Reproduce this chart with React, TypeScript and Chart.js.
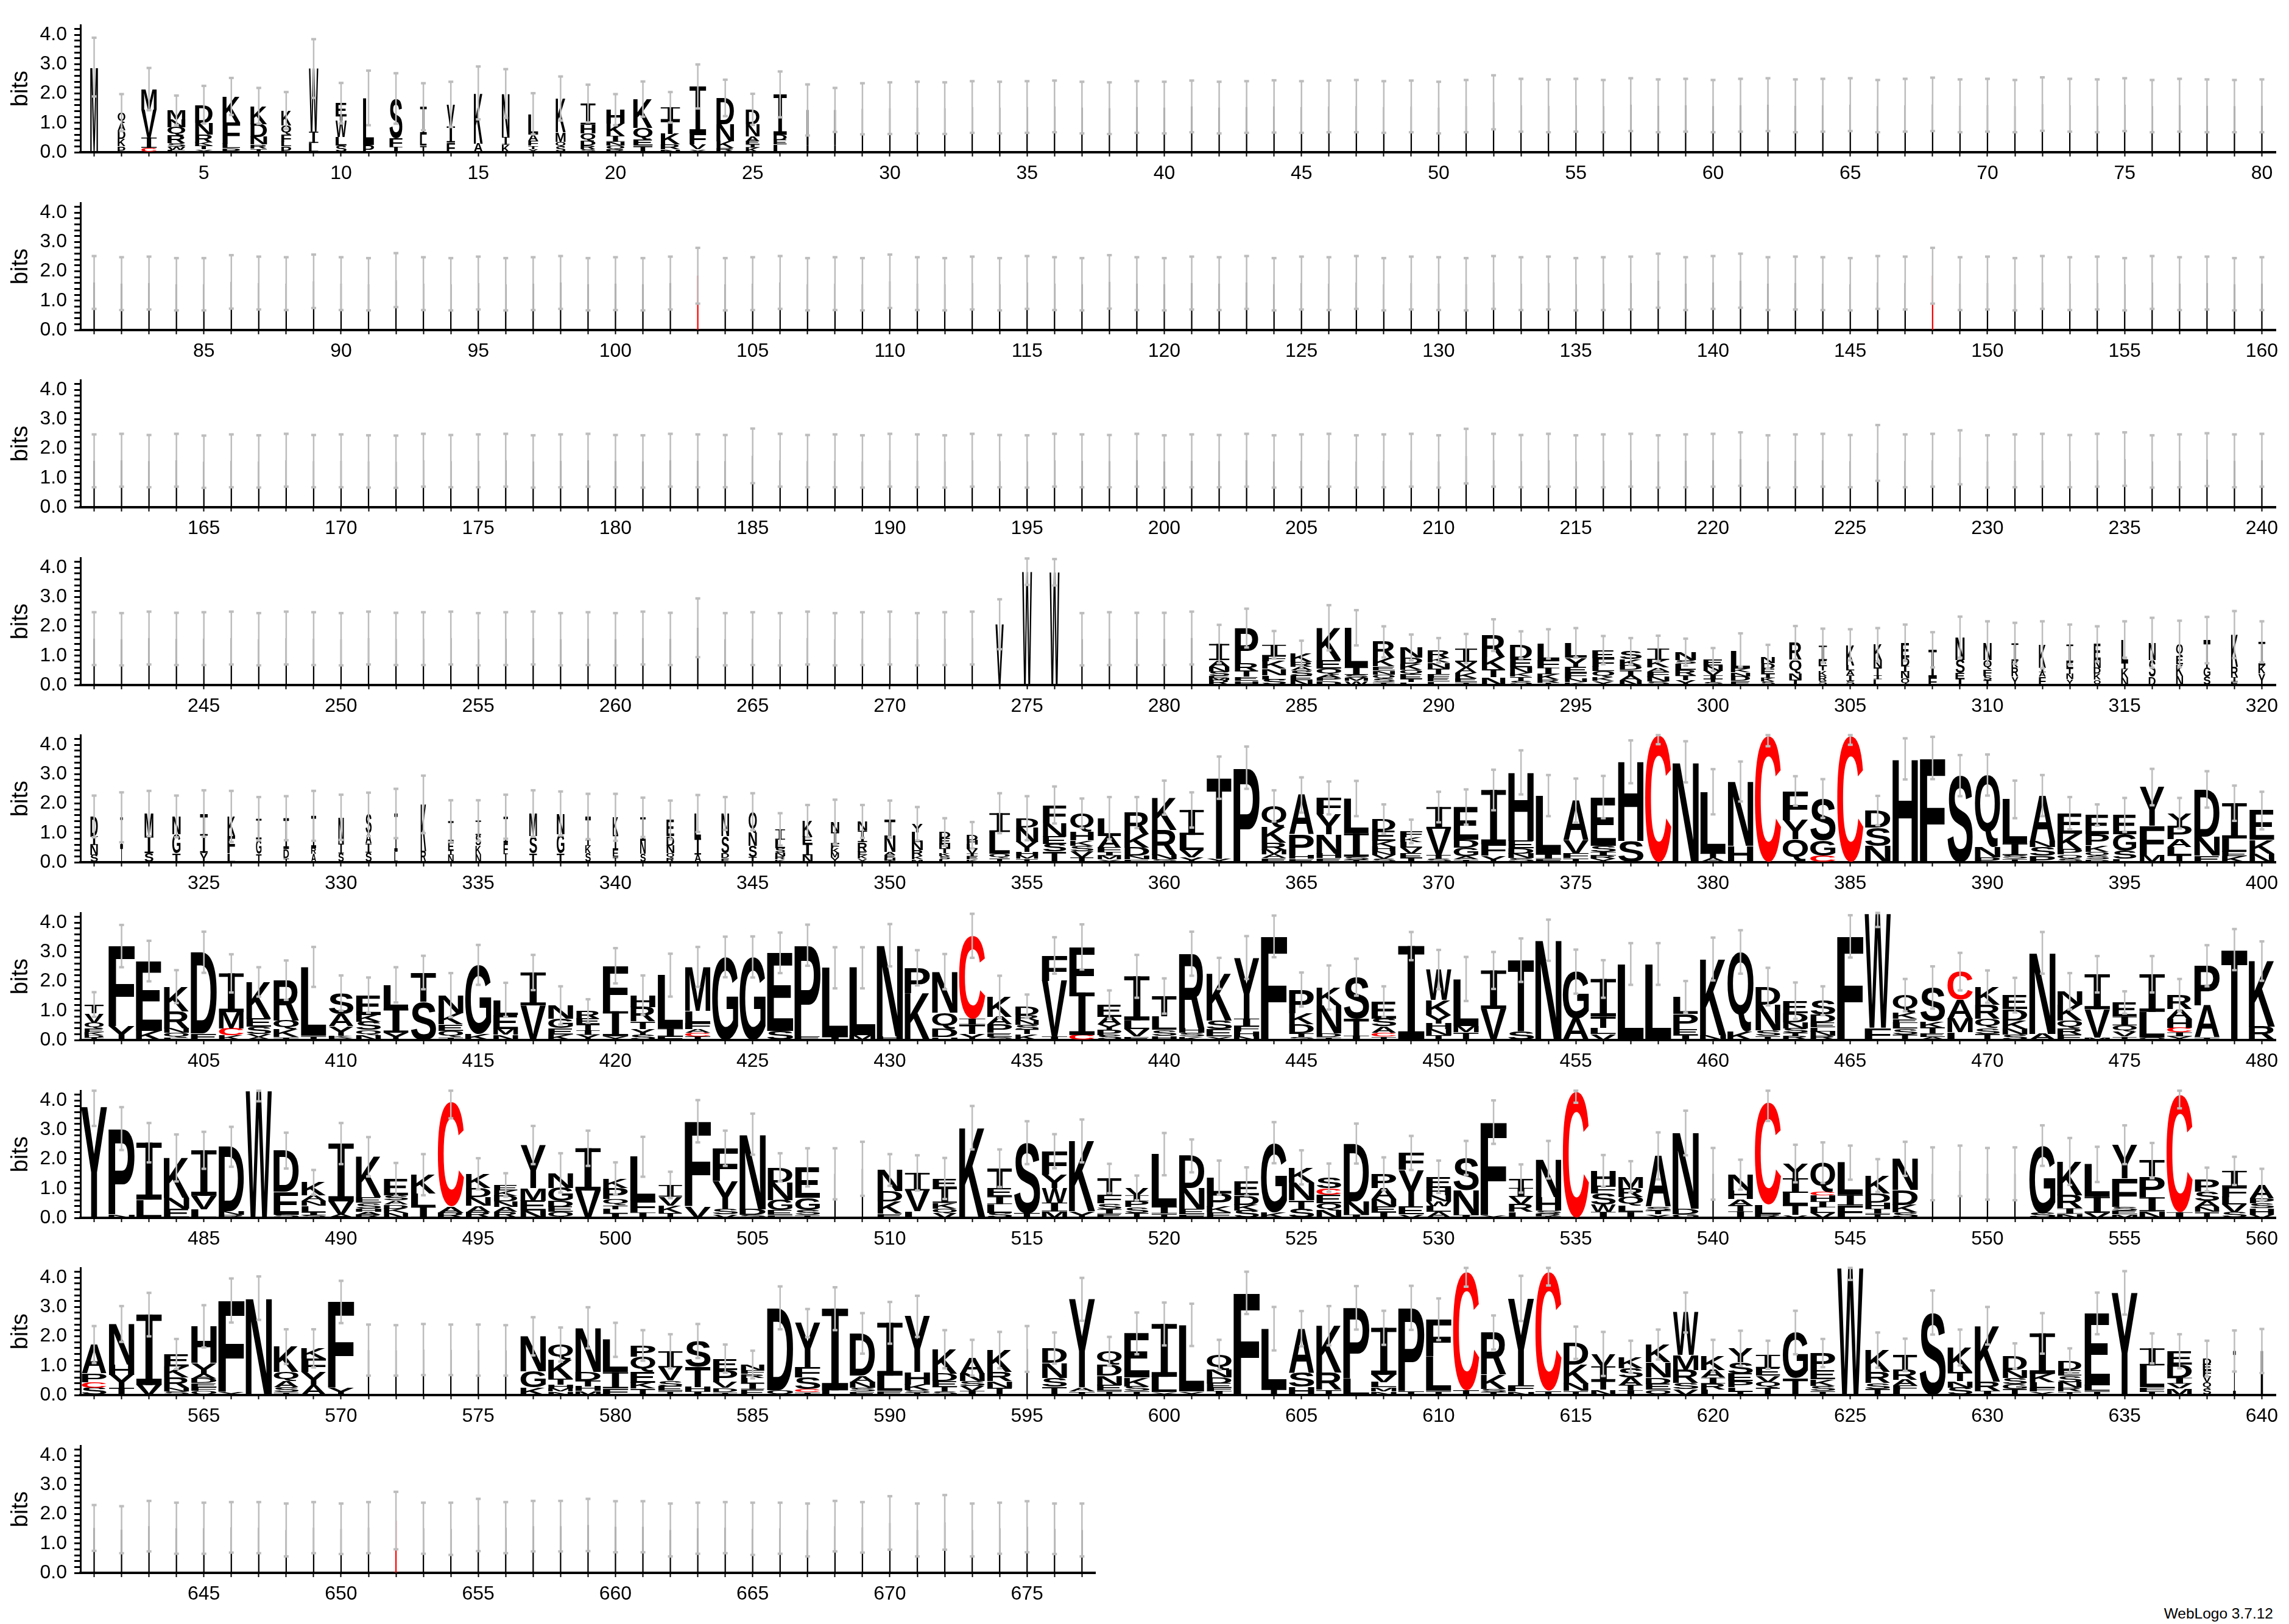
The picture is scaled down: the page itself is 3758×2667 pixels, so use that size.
import React, { useEffect, useRef } from 'react';
import { Chart, registerables } from 'chart.js';

Chart.register(...registerables);

const FONT = "'Liberation Sans', Arial, Helvetica, sans-serif";
const LETTER_FONT = "bold 200px 'Liberation Sans', Arial, sans-serif";

// Each entry: "stackWidthFraction|errorHalfWidth|letters (top -> bottom, height in bits)"
const row1Stacks = [
  ".28|1.0|M2.9", ".28|.63|Q.35A.25D.3K.25P.2", ".56|.72|M.7V.95I.35C.15", ".65|.5|M.32N.26Q.29R.26S.12W.1E.08", ".64|.64|D.62N.4R.26K.12T.12Y.1", ".64|.63|K.88F.72L.15P.15", ".6|.61|K.62D.44N.26R.14T.12", ".36|.63|K.5Q.32F.25L.15P.2", ".34|1.0|W2.15I.38L.32", ".4|.69|E.45T.15W.55L.3S.22",
  ".4|.93|L1.6P.25", ".47|.86|S1.35F.3I.18", ".24|.8|I.95L.38T.22", ".3|.77|V.75I.55F.33", ".32|.9|K1.72A.3", ".28|.83|N1.48I.26K.26", ".36|.7|L.7A.22F.17T.11Y.11", ".36|.75|K1.15M.32Q.17S.19", ".54|.64|I.72H.3Q.27D.15R.12S.1", ".66|.53|H.47K.42I.2N.14Q.12R.1",
  ".7|.6|K.98Q.4E.21T.22", ".7|.52|I.44T.47K.36R.16N.1", ".6|.75|I1.6F.38V.16Y.1", ".64|.62|D.9N.58K.23R.14", ".5|.53|D.5N.42A.16E.12I.1K.16", ".48|.78|I1.38D.17E.16L.26", ".07|.87|I1.2R.24", ".06|.75|I.9M.3S.24", ".05|.87|L1.48", ".05|.88|I1.5",
  ".05|.88|S1.52", ".05|.88|L1.5", ".05|.88|K1.54", ".05|.88|I1.52", ".05|.88|L1.54", ".05|.88|N1.56", ".05|.88|L1.52", ".05|.88|I1.5", ".05|.88|S1.54", ".05|.88|L1.52",
  ".05|.88|K1.56", ".05|.88|E1.52", ".05|.88|L1.54", ".05|.89|I1.56", ".05|.88|L1.54", ".05|.88|N1.56", ".05|.89|L1.57", ".05|.88|S1.54", ".05|.88|I1.56", ".05|.88|L1.52",
  ".05|.89|K1.57", ".05|.92|L1.7", ".05|.9|I1.6", ".05|.9|L1.58", ".05|.9|E1.6", ".05|.89|L1.57", ".05|.9|S1.62", ".05|.9|L1.58", ".05|.9|I1.6", ".05|.89|K1.57",
  ".05|.9|L1.6", ".05|.9|N1.62", ".05|.9|L1.58", ".05|.9|I1.6", ".05|.9|L1.62", ".05|.89|S1.57", ".05|.9|L1.6", ".05|.91|E1.63", ".05|.9|L1.58", ".05|.9|I1.6",
  ".05|.89|L1.57", ".05|.91|K1.64", ".05|.9|L1.6", ".05|.9|N1.58", ".05|.9|L1.62", ".05|.89|I1.57", ".05|.9|L1.6", ".05|.9|S1.58", ".05|.89|L1.57", ".05|.9|I1.58",
];

const row2Stacks = [
  ".05|.9|L1.62", ".05|.9|I1.58", ".05|.9|L1.6", ".05|.89|S1.56", ".05|.89|L1.56", ".05|.91|K1.64", ".05|.9|L1.6", ".05|.9|I1.58", ".05|.91|L1.66", ".05|.9|N1.58",
  ".05|.89|L1.56", ".05|.92|E1.7", ".05|.9|L1.58", ".05|.89|I1.56", ".05|.9|L1.6", ".05|.89|S1.56", ".05|.9|L1.58", ".05|.9|K1.62", ".05|.89|L1.56", ".05|.9|I1.58",
  ".05|.89|L1.56", ".05|.9|N1.6", ".05|.95|C1.85", ".05|.89|L1.56", ".05|.9|I1.58", ".05|.9|L1.62", ".05|.89|S1.56", ".05|.9|L1.58", ".05|.89|K1.56", ".05|.91|L1.66",
  ".05|.9|I1.58", ".05|.89|L1.56", ".05|.9|E1.6", ".05|.89|L1.56", ".05|.9|I1.62", ".05|.9|L1.58", ".05|.89|S1.56", ".05|.91|L1.64", ".05|.9|K1.58", ".05|.89|L1.56",
  ".05|.9|I1.6", ".05|.9|L1.58", ".05|.9|N1.62", ".05|.89|L1.56", ".05|.9|I1.6", ".05|.9|L1.58", ".05|.9|S1.62", ".05|.89|L1.56", ".05|.9|E1.6", ".05|.9|L1.58",
  ".05|.89|I1.56", ".05|.9|L1.62", ".05|.9|K1.58", ".05|.9|L1.6", ".05|.89|I1.56", ".05|.9|L1.58", ".05|.9|S1.6", ".05|.92|L1.68", ".05|.9|I1.58", ".05|.9|L1.62",
  ".05|.92|N1.68", ".05|.9|L1.58", ".05|.9|I1.6", ".05|.9|L1.58", ".05|.89|K1.56", ".05|.9|L1.62", ".05|.9|I1.6", ".05|.95|C1.85", ".05|.9|L1.58", ".05|.9|S1.6",
  ".05|.89|L1.56", ".05|.9|I1.62", ".05|.9|L1.58", ".05|.9|E1.6", ".05|.89|L1.56", ".05|.9|I1.62", ".05|.9|L1.58", ".05|.9|K1.6", ".05|.89|L1.56", ".05|.9|I1.58",
];

const row3Stacks = [
  ".05|.9|L1.58", ".05|.9|I1.6", ".05|.89|L1.57", ".05|.9|S1.6", ".05|.89|L1.55", ".05|.9|K1.58", ".05|.89|L1.56", ".05|.9|I1.6", ".05|.89|L1.57", ".05|.9|N1.58",
  ".05|.89|L1.56", ".05|.89|I1.55", ".05|.9|L1.6", ".05|.89|E1.57", ".05|.9|L1.58", ".05|.9|I1.6", ".05|.89|L1.56", ".05|.9|S1.58", ".05|.9|L1.6", ".05|.89|K1.57",
  ".05|.89|L1.56", ".05|.9|I1.6", ".05|.9|L1.58", ".05|.89|N1.57", ".05|.93|L1.75", ".05|.9|I1.6", ".05|.89|L1.57", ".05|.9|S1.58", ".05|.89|L1.56", ".05|.9|I1.6",
  ".05|.9|L1.58", ".05|.89|K1.56", ".05|.9|L1.6", ".05|.89|E1.57", ".05|.89|L1.56", ".05|.9|I1.6", ".05|.9|L1.58", ".05|.89|S1.57", ".05|.9|L1.6", ".05|.89|I1.56",
  ".05|.9|L1.58", ".05|.89|N1.57", ".05|.9|L1.6", ".05|.89|I1.56", ".05|.9|L1.58", ".05|.9|K1.6", ".05|.89|L1.56", ".05|.9|I1.58", ".05|.9|L1.6", ".05|.89|S1.56",
  ".05|.93|L1.74", ".05|.9|I1.6", ".05|.89|L1.57", ".05|.9|E1.6", ".05|.89|L1.56", ".05|.9|I1.58", ".05|.9|L1.6", ".05|.89|K1.56", ".05|.9|L1.58", ".05|.9|I1.6",
  ".05|.91|L1.64", ".05|.89|N1.56", ".05|.9|L1.58", ".05|.9|I1.6", ".05|.89|L1.57", ".05|.95|S1.85", ".05|.9|L1.58", ".05|.9|I1.6", ".05|.92|L1.7", ".05|.89|K1.56",
  ".05|.9|L1.58", ".05|.9|I1.6", ".05|.89|L1.57", ".05|.9|E1.6", ".05|.91|L1.64", ".05|.89|I1.56", ".05|.9|L1.58", ".05|.9|S1.62", ".05|.9|L1.58", ".05|.9|I1.6",
];

const row4Stacks = [
  ".05|.9|L1.58", ".05|.89|I1.56", ".05|.9|L1.6", ".05|.89|S1.57", ".05|.9|L1.58", ".05|.9|K1.6", ".05|.89|L1.56", ".05|.9|I1.6", ".05|.9|L1.58", ".05|.89|N1.56",
  ".05|.9|L1.6", ".05|.89|I1.57", ".05|.9|L1.58", ".05|.9|E1.6", ".05|.89|L1.56", ".05|.9|I1.58", ".05|.9|L1.6", ".05|.89|S1.56", ".05|.9|L1.58", ".05|.89|K1.56",
  ".05|.9|L1.6", ".05|.89|I1.57", ".05|1.0|L1.95", ".05|.89|N1.56", ".05|.9|L1.58", ".05|.89|I1.56", ".05|.9|L1.6", ".05|.89|S1.56", ".05|.9|L1.58", ".05|.9|K1.6",
  ".05|.89|L1.56", ".05|.9|I1.58", ".05|.9|L1.6", ".3|.85|V2.07", ".36|.45|W3.86", ".36|.45|W3.84", ".05|.89|L1.56", ".05|.9|I1.58", ".05|.89|L1.57", ".05|.89|S1.57",
  ".05|.9|L1.6", ".74|.65|I.55A.22N.17S.15E.08M.07R.16", ".85|.66|P1.2R.26T.2E.14H.14", ".87|.47|I.38F.18K.26N.22L.14S.19", ".8|.43|K.29R.16A.14S.18E.15N.16", ".9|.77|K1.1E.3Q.2A.1P.1D.15", ".85|.6|L1.35I.25S.1M.1W.15", ".8|.53|R.55K.28E.14N.14Q.14S.12T.1", ".8|.44|N.35D.2K.22Q.16E.15T.1L.1", ".8|.42|R.26K.16N.19T.19F.13E.13L.12",
  ".8|.5|I.45V.19A.19K.19E.12T.1", ".85|.54|R.75K.42T.27N.26", ".8|.46|D.48E.29N.18K.14T.14S.14", ".8|.5|L.55F.26I.22K.19R.1T.08", ".8|.5|L.51Y.32E.2F.19N.12K.1", ".8|.48|E.27F.29L.16Q.19K.13Y.15", ".8|.45|S.26K.22D.16T.19A.16N.16", ".8|.44|I.38K.26A.14F.19N.15S.12", ".75|.46|N.26S.13L.22R.18T.17Y.16", ".7|.39|E.2N.19V.15I.12T.11S.1",
  ".7|.57|L.62K.14N.14D.15E.14", ".5|.41|N.22D.18E.18I.14K.12S.12", ".45|.57|R.58Q.45N.22T.19", ".3|.58|I.5E.2T.15K.17R.17S.15", ".3|.53|K.7L.17A.17I.18S.15", ".3|.57|K.52N.26T.26I.13L.2", ".3|.62|E.5D.29I.2N.23Q.22", ".3|.6|I.95F.25", ".33|.7|N.77S.45E.2I.21", ".3|.73|N.58Q.32F.22S.16T.16",
  ".25|.7|I.6K.22R.32Y.28", ".25|.8|K.77I.16A.16F.28", ".25|.68|I.6E.2T.2N.18Y.2", ".25|.6|E.55N.26D.2K.2Q.19", ".25|.62|L.8I.2K.3N.25", ".25|.85|N.58S.58D.28", ".25|.79|Q.4E.3K.38N.32", ".25|.79|T.93G.32S.28", ".25|.8|K1.1R.35I.15E.12", ".25|.7|I.8K.28Y.39",
];

const row5Stacks = [
  ".27|.71|D.67I.3N.35S.24", ".1|.85|I1.0T.53", ".32|.77|M.77I.58S.31", ".3|.71|N.6G.65T.31", ".28|.79|T.7I.64Y.32", ".28|.87|K.67F.58L.31", ".2|.74|I.7G.5T.28", ".2|.75|I1.05D.3T.15", ".18|.85|I1.1R.2A.28", ".2|.77|N.9I.33S.3",
  ".22|.74|S.65A.35I.3S.33", ".12|.84|I1.3L.36", ".2|.98|K1.6R.37", ".2|.71|I.7E.3I.15N.25", ".2|.69|I.5S.35K.3N.27", ".16|.75|I.9F.35I.3", ".28|.79|M.77S.58T.31", ".28|.75|N.7G.65T.31", ".2|.77|T.8I.2K.25S.31", ".2|.8|K.6I.5E.25T.18",
  ".2|.67|I.8N.45S.28", ".28|.66|E.55D.32N.26Q.16R.15", ".24|.63|L.85I.55A.26", ".28|.56|N.77S.58D.16E.15", ".3|.63|Q.7N.45S.38T.19", ".36|.55|I.35L.29S.15N.12R.11K.1", ".36|.55|K.52E.26I.38N.24", ".3|.76|N.35I.4F.15K.15M.16Y.16", ".34|.56|N.32I.38R.33E.12K.12Y.12", ".4|.63|T.57N.55A.1E.1H.08I.07",
  ".4|.57|Y.3L.33N.26R.22K.1M.1", ".4|.47|D.2E.2N.16T.16K.1S.1L.11", ".4|.45|D.17H.15L.15V.15I.1E.1K.1", ".75|.68|I.64L.74Q.14T.15", ".8|.75|D.32N.5Y.33H.13M.1T.12", ".85|.63|F.62N.45E.26S.26T.36", ".85|.5|Q.63H.3K.17S.2V.2T.17", ".85|.72|L.6A.4F.15I.12M.13Y.1", ".9|.53|R.74K.45D.28N.12E.1", ".9|.58|K1.1R.85N.15S.1",
  ".88|.6|I.85L.52V.25Y.16", ".9|.72|T2.75Y.13", ".95|.72|P3.22", ".9|.53|Q.74K.52R.24M.16A.12E.14", ".9|.6|A1.35P.7H.12E.12", ".9|.56|F.56Y.68N.65H.15E.15", ".9|.6|L1.18I.8S.1T.09", ".85|.5|D.4E.35K.2H.15N.12V.13S.12", ".8|.4|F.2K.16L.2V.2E.15I.14", ".9|.52|I.74V.9T.12S.12",
  ".9|.6|E1.12D.26G.3A.1T.1", ".9|.69|I1.85F.39Y.22", ".92|.75|H2.33E.26D.17N.15S.15", ".92|.7|L2.0I.15F.12", ".92|.75|A1.36V.45F.15T.14", ".92|.72|E1.65S.22I.12R.1Y.13", ".92|.73|H2.7S.72", ".95|.3|C4.32", ".95|.7|N3.42", ".92|.77|L2.1T.15A.15",
  ".92|.68|N2.2H.55", ".95|.35|C4.3", ".92|.5|F1.0Y.65Q.78", ".92|.66|S1.42G.52C.23", ".95|.3|C4.3", ".92|.5|D.58S.62N.56", ".92|.7|H3.52", ".92|.72|F3.55", ".92|.7|S2.95", ".92|.7|Q2.45N.35P.17",
  ".9|.64|L1.5I.4S.12T.12", ".92|.7|A1.55N.2S.3P.22", ".9|.55|E.69K.54P.18Q.14S.12", ".85|.36|E.65P.38K.22Q.14S.12D.1", ".85|.58|E.65G.58S.26L.12", ".9|.62|Y1.32F1.0M.24", ".88|.52|Y.43P.46A.27L.27T.24", ".92|.62|D1.6N.65E.23", ".9|.6|I1.2L.45E.15K.21", ".9|.64|E1.0K.46N.3",
];

const row6Stacks = [
  ".7|.42|T.3V.32Q.2E.12K.1D.08I.09", ".95|.72|F2.72Y.48", ".95|.69|E2.37K.32", ".9|.56|K.84R.58N.16Q.16E.08", ".95|.7|D2.77E.22", ".9|.65|I1.32M.56C.23K.16", ".9|.5|K1.25E.28S.25V.1A.1", ".92|.67|R1.38Q.29K.27T.1", ".92|.68|L2.34T.15", ".9|.6|S.71A.42Y.32K.08D.07",
  ".9|.6|E.67K.23S.29Q.18N.16", ".9|.6|L.8I.83Y.25", ".92|.57|T1.0S1.3", ".9|.75|N.61K.38E.22Q.22T.1", ".95|.68|G2.34K.22", ".9|.58|L.51E.48M.2N.18", ".92|.6|I1.12V1.18", ".9|.65|N.45G.32E.22K.19", ".85|.4|R.26E.2T.2I.15Y.18", ".92|.6|F1.55I.85Y.13",
  ".9|.67|H.4R.5T.25Y.22S.16", ".92|.73|L1.82I.26F.13", ".92|.68|M1.5L.4F.22A.12C.12T.13", ".95|.69|G2.83", ".95|.7|G2.83", ".95|.69|E2.65S.32", ".95|.7|P3.1E.13", ".95|.7|L2.35I.11", ".95|.7|L2.3M.16", ".95|.72|N3.1H.13",
  ".92|.6|P.86K1.6", ".92|.6|N1.4Q.55D.28H.1", ".95|.75|C2.82I.2T.32Y.21", ".9|.72|K.68A.26P.29E.14S.1", ".85|.4|D.29R.19N.16S.16T.15K.2", ".92|.62|F.86V1.9I.12", ".92|.77|F1.55I1.45C.17", ".88|.48|E.42A.26Y.18P.18S.17", ".92|.73|I1.5L.3V.25E.12", ".9|.6|T.7L.45S.2H.15",
  ".92|.75|R2.55H.15S.12K.12", ".92|.53|K1.6S.3E.25Y.12", ".92|.73|Y2.08I.26F.18H.16N.13", ".95|.71|F3.53", ".9|.58|P.8K.38D.32T.12S.1", ".9|.75|K.61N.96D.12T.1", ".92|.63|S1.41T.58I.15", ".9|.52|E.58S.26A.22C.13T.12", ".95|.48|I3.2", ".92|.67|W1.03K.51Y.29H.2N.2T.17",
  ".92|.75|L1.6M.22T.26", ".92|.63|I1.31V1.06", ".95|.74|T2.43S.29", ".95|.7|N3.4", ".95|.75|G1.6A.73", ".92|.64|I1.28T.38L.22V.2", ".95|.71|L2.59", ".95|.71|L2.59", ".9|.54|L.58P.51E.22I.16", ".95|.73|K2.6N.16",
  ".95|.74|Q2.7K.3", ".9|.64|D.61N.87S.2T.14", ".9|.62|E.42D.32N.2S.15T.12R.13", ".9|.49|S.48D.26E.16L.14N.15R.15", ".95|.72|F3.53", ".95|.45|W3.88F.42", ".9|.55|Q.58K.22E.14L.2S.2T.19", ".9|.72|S1.15K.22T.2E.12A.1", ".92|.64|C.96A.64M.47L.26", ".9|.55|K.61R.48Q.32S.2T.21",
  ".9|.59|E.48D.38K.29N.2S.18", ".95|.71|N2.76A.21", ".9|.62|N.45K.54Q.26R.22E.19", ".92|.62|I1.19V.96M.09", ".88|.38|E.48I.3Q.22V.16T.12", ".92|.62|I1.28L.87Q.09", ".9|.55|R.48A.32H.32C.15I.13Y.13", ".92|.7|P1.35A1.09T.09", ".95|.7|T3.08", ".95|.67|K2.24R.45",
];

const row7Stacks = [
  ".95|.65|Y3.78", ".95|.73|P2.92N.12", ".92|.67|I1.94L.62", ".92|.8|K1.36N.36E.32", ".92|.63|I1.55V.45L.3", ".92|.68|D2.2N.12R.1", ".95|.35|W4.32", ".92|.61|D1.4E.78S.11", ".88|.42|K.45A.19N.16L.22I.1S.09", ".92|.7|I1.97V.45A.11",
  ".92|.67|K1.38E.19S.2H.1A.1R.11", ".88|.56|E.55S.16A.14D.14K.16N.16", ".9|.7|K.64L.45I.38", ".95|.55|C3.56A.22R.16", ".9|.53|K.48D.32N.29A.22R.19", ".85|.4|E.19K.18D.2N.18A.17R.2", ".92|.65|Y1.47M.42E.35N.24", ".9|.67|N.51G.45D.2E.17Q.2", ".92|.6|I1.44V.93", ".9|.55|K.32P.38Q.2T.14L.15I.15",
  ".92|.68|L1.5F.4I.18", ".85|.45|I.4V.3K.25T.17", ".95|.72|F2.9V.39", ".92|.6|F1.12Y.93S.2V.12", ".95|.7|N2.55D.2S.1", ".9|.48|D.51N.6G.35E.16F.1", ".9|.65|E1.03G.42S.17T.1", ".05|.87|L1.5", ".05|.92|I1.67", ".9|.54|N.71D.35K.42E.15",
  ".9|.6|I.6V.71L.22", ".88|.7|E.32I.51K.19Q.16V.16", ".95|.74|K3.07", ".9|.64|T.67E.3I.25L.3S.17", ".95|.73|S2.4T.16", ".92|.58|F.8Y.45W.5I.3M.22", ".95|.73|K2.4Y.22", ".88|.5|T.55F.3S.2I.15E.14", ".85|.42|V.25I.2P.2S.2T.17", ".92|.72|L1.8I.22T.15",
  ".92|.56|D1.1N.71E.18F.12", ".9|.58|L.54P.45K.2E.18", ".9|.48|E.48D.32K.2S.24", ".95|.7|G2.36K.2", ".92|.58|K.51N.61T.3S.3", ".9|.48|S.36C.22E.29Q.23N.27", ".92|.68|D1.97N.45I.11", ".9|.56|P.48A.38N.25E.2I.19", ".92|.58|F.58Y1.25E.26V.12", ".9|.55|E.38H.26N.2W.16L.2A.2",
  ".92|.58|S1.1N.84I.1", ".95|.74|F3.16Y.1", ".88|.48|T.32I.3V.26R.26L.2", ".92|.64|N1.28H.45S.1R.08T.07", ".95|.38|C4.3", ".9|.54|H.51F.26S.38W.25I.2", ".9|.53|M.38R.32Q.29L.21I.2", ".92|.8|A1.73S.13T.13Y.12", ".95|.76|N2.58D.19G.12", ".05|.88|L1.5",
  ".9|.51|N.54H.29A.22T.2I.22", ".95|.6|C3.46L.32R.12", ".92|.64|Y.5I.5L.4T.35V.1", ".9|.69|Q1.0C.12H.2I.2L.2V.16", ".92|.58|L1.1I.35F.43", ".9|.56|K.61D.32H.2I.17T.14", ".92|.58|N1.06D.51K.26S.18", ".05|.9|L1.5", ".05|.86|I1.6", ".05|.88|L1.5",
  ".05|.9|S1.5", ".95|.69|G2.3S.16", ".92|.8|K1.15R.45I.18N.14", ".92|.6|L1.1I.55V.17", ".92|.66|Y1.15F.96S.14E.12M.12", ".92|.6|T.55P.7I.48N.22", ".95|.46|C4.0I.19", ".88|.4|P.42S.32A.2N.17T.2", ".9|.48|I.54F.35L.26V.26S.19", ".88|.55|A.45P.17S.17H.22V.11",
];

const row8Stacks = [
  ".9|.63|A.99P.29C.2S.24", ".92|.61|N1.38H.35Y.45T.24", ".92|.74|I2.4V.34", ".9|.51|E.42K.38R.35N.13S.12", ".92|.72|H1.25Y.38A.15D.15E.14F.12Q.15", ".95|.75|F3.1Y.12", ".95|.74|N3.3", ".9|.59|K.87Q.32A.2S.16T.1", ".9|.65|K.35F.45Y.45A.34", ".95|.72|F2.93Y.24",
  ".05|.87|L1.53", ".05|.86|I1.52", ".05|.87|L1.55", ".05|.86|S1.54", ".05|.87|L1.53", ".05|.86|I1.52", ".92|.65|N1.2G.54K.26", ".9|.58|Q.51K.64T.22H.12M.11N.12", ".92|.7|N1.5D.3T.2H.15M.14", ".92|.58|L1.1I.55F.23",
  ".9|.52|P.38Q.51E.38K.2T.22", ".88|.58|I.55V.45S.2E.15T.14", ".92|.58|S.87T.7H.15I.12", ".88|.48|E.38P.42V.2D.14T.1", ".85|.47|N.19F.13R.13L.19I.2E.2", ".95|.73|D2.8Q.17", ".92|.48|Y1.5F.35S.4C.1T.1", ".95|.73|I2.78L.16", ".92|.69|D1.44A.22N.2S.12E.12", ".92|.71|I1.8L.52E.14",
  ".92|.7|Y1.9H.42K.2S.08T.08", ".9|.65|K.83D.26E.2T.15S.12", ".9|.61|A.54N.26S.17V.16I.14", ".9|.62|K.74R.32N.22T.25", ".05|.78|I1.57", ".9|.53|D.51N.51S.3T.28", ".95|.73|Y3.0A.14T.12", ".9|.49|Q.45D.38N.32E.2T.14", ".92|.71|E1.5K.3S.15T.15", ".92|.73|I1.8L.52Y.1",
  ".92|.72|L2.27Y.12", ".9|.51|Q.51N.26D.2E.16F.1I.14", ".95|.72|F3.48", ".92|.74|L2.05T.21", ".92|.6|A1.5S.48H.28", ".92|.67|K1.6R.58T.18", ".95|.74|P2.4L.57", ".92|.58|I1.6V.26L.17M.14N.12", ".95|.75|P2.84T.13", ".92|.71|F1.25L1.18T.15",
  ".95|.5|C4.03T.16", ".92|.58|R1.44K.48S.1T.11", ".95|.77|Y2.95F.22N.12", ".95|.46|C4.04T.15", ".9|.55|D.74K.64N.26T.14", ".88|.75|V.42I.48T.32N.18", ".88|.55|K.38S.32A.26T.18I.16", ".9|.51|K.61N.51D.22E.2Q.18", ".92|.68|W1.45M.5R.45S.21V.2", ".88|.55|K.48A.26I.2R.2L.19",
  ".9|.6|Y.48S.38E.26P.2L.14T.13", ".88|.48|I.45E.26V.22Q.2T.24", ".92|.74|G1.55T.58", ".9|.48|P.58E.32K.22S.16T.15", ".95|.4|W4.32", ".9|.6|K.74R.38S.2T.21", ".88|.55|T.5R.35A.2F.15L.17", ".95|.75|S2.81", ".9|.61|K.83T.32N.22S.25", ".92|.64|K1.9R.32I.14",
  ".88|.43|D.48N.26S.22G.16T.21", ".92|.69|I1.38K.29L.18F.13Y.12", ".85|.42|D.32E.19S.22N.2R.12T.12", ".92|.71|E2.44L.2T.14", ".95|.74|Y3.48", ".9|.51|I.58L.74F.14T.13", ".9|.58|E.45D.45I.2V.16M.23", ".3|.61|D.2E.2F.2V.2Q.22S.22", ".1|.7|I1.5", ".08|.75|I1.5",
];

const row9Stacks = [
  ".05|.78|L1.53", ".05|.8|I1.47", ".05|.86|L1.59", ".05|.87|S1.52", ".05|.87|L1.52", ".05|.86|K1.55", ".05|.87|L1.54", ".05|.9|I1.46", ".05|.87|L1.54", ".05|.86|N1.5",
  ".05|.87|L1.54", ".05|.98|C1.78", ".05|.87|L1.52", ".05|.89|I1.5", ".05|.89|L1.63", ".05|.87|E1.54", ".05|.86|L1.59", ".05|.86|I1.59", ".05|.89|L1.63", ".05|.87|S1.57",
  ".05|.87|L1.57", ".05|.9|I1.46", ".05|.87|L1.52", ".05|.87|K1.54", ".05|.89|L1.5", ".05|.87|I1.52", ".05|.9|L1.46", ".05|.86|N1.59", ".05|.86|L1.55", ".05|.91|I1.7",
  ".05|.9|L1.46", ".05|.93|S1.72", ".05|.9|L1.46", ".05|.87|I1.52", ".05|.87|L1.57", ".05|.86|E1.5", ".05|.9|L1.46",
];

const rowStacks = [row1Stacks, row2Stacks, row3Stacks, row4Stacks, row5Stacks, row6Stacks, row7Stacks, row8Stacks, row9Stacks];
const rowStarts = [1, 81, 161, 241, 321, 401, 481, 561, 641];
const yTickValues = [0, 0.2, 0.4, 0.6, 0.8, 1.0, 1.2, 1.4, 1.6, 1.8, 2.0, 2.2, 2.4, 2.6, 2.8, 3.0, 3.2, 3.4, 3.6, 3.8, 4.0, 4.2];
const Y_MAX = 4.33;

// layout constants (page pixels)
const PAGE_W = 3758;
const PAGE_H = 2667;
const ROW_PITCH = 291.6;
const CANVAS_H = 291;
const PLOT_TOP = 14.7;
const X_AXIS_H = 51;
const Y_AXIS_W = 132;
const SLOT = 45.05;

const letterColor = (ch: string) => (ch === 'C' ? '#ff0000' : '#000000');

type Letter = { ch: string; h: number };
type Stack = { w: number; e: number; letters: Letter[] };

function parseStack(s: string): Stack {
  const [w, e, body] = s.split('|');
  const letters: Letter[] = [];
  const re = /([A-Z])(\d*\.?\d+)/g;
  let m: RegExpExecArray | null;
  while ((m = re.exec(body))) letters.push({ ch: m[1], h: parseFloat(m[2]) });
  return { w: parseFloat(w), e: parseFloat(e), letters };
}

const glyphCache: Record<string, { left: number; right: number; asc: number; desc: number }> = {};
function glyphBox(ctx: CanvasRenderingContext2D, ch: string) {
  if (glyphCache[ch]) return glyphCache[ch];
  ctx.save();
  ctx.font = LETTER_FONT;
  const m = ctx.measureText(ch);
  ctx.restore();
  const g = {
    left: m.actualBoundingBoxLeft,
    right: m.actualBoundingBoxRight,
    asc: m.actualBoundingBoxAscent,
    desc: m.actualBoundingBoxDescent,
  };
  glyphCache[ch] = g;
  return g;
}

function drawGlyph(ctx: CanvasRenderingContext2D, ch: string, x: number, y: number, w: number, h: number) {
  if (h < 0.3 || w <= 0) return;
  ctx.save();
  ctx.fillStyle = letterColor(ch);
  if (w < 4) {
    ctx.fillRect(x, y, w, h);
    ctx.restore();
    return;
  }
  if (ch === 'I') {
    const bar = Math.max(0.8, h * 0.09);
    const stem = Math.max(1.2, w * 0.28);
    ctx.fillRect(x, y, w, bar);
    ctx.fillRect(x, y + h - bar, w, bar);
    ctx.fillRect(x + (w - stem) / 2, y, stem, h);
    ctx.restore();
    return;
  }
  const g = glyphBox(ctx, ch);
  const gw = g.left + g.right;
  const gh = g.asc + g.desc;
  ctx.translate(x, y);
  ctx.scale(w / gw, h / gh);
  ctx.font = LETTER_FONT;
  ctx.textAlign = 'left';
  ctx.textBaseline = 'alphabetic';
  ctx.fillText(ch, g.left, g.asc);
  ctx.restore();
}

function makeLogoPlugin(stacks: Stack[]) {
  return {
    id: 'logoLetters',
    afterDatasetsDraw(chart: any) {
      const ctx: CanvasRenderingContext2D = chart.ctx;
      const xs = chart.scales.x;
      const ys = chart.scales.y;
      const slot = xs.getPixelForValue(1) - xs.getPixelForValue(0);
      chart.data.datasets.forEach((_ds: any, k: number) => {
        const meta = chart.getDatasetMeta(k);
        meta.data.forEach((el: any, j: number) => {
          const L = stacks[j].letters;
          const idx = L.length - 1 - k;
          if (idx < 0) return;
          const p = el.getProps(['x', 'y', 'base'], true);
          const top = Math.min(p.y, p.base);
          const h = Math.abs(p.base - p.y);
          const w = stacks[j].w * slot;
          drawGlyph(ctx, L[idx].ch, p.x - w / 2, top, w, h);
        });
      });
      ctx.save();
      ctx.strokeStyle = '#bdbdbd';
      ctx.fillStyle = '#bdbdbd';
      ctx.lineWidth = 2.5;
      stacks.forEach((s, j) => {
        const total = s.letters.reduce((a, l) => a + l.h, 0);
        const x = xs.getPixelForValue(j);
        const yUp = ys.getPixelForValue(Math.min(total + s.e, Y_MAX));
        const yLo = ys.getPixelForValue(Math.max(total - s.e, 0));
        ctx.beginPath();
        ctx.moveTo(x, yUp);
        ctx.lineTo(x, yLo);
        ctx.stroke();
        ctx.fillRect(x - 4, yUp - 2, 8, 4);
        ctx.fillRect(x - 4, yLo - 2, 8, 4);
      });
      ctx.restore();
    },
  };
}

function LogoRow({ index }: { index: number }) {
  const ref = useRef<HTMLCanvasElement | null>(null);
  const n = rowStacks[index].length;
  const plotRight = Y_AXIS_W + n * SLOT;
  const canvasW = index === 8 ? 1830 : PAGE_W;
  const padRight = canvasW - plotRight;

  useEffect(() => {
    if (!ref.current) return;
    const start = rowStarts[index];
    const stacks = rowStacks[index].map(parseStack);
    const labels = stacks.map((_, i) => String(start + i));
    const maxLayers = Math.max(...stacks.map((s) => s.letters.length));
    const datasets: any[] = [];
    for (let k = 0; k < maxLayers; k++) {
      datasets.push({
        label: 'layer ' + k,
        data: stacks.map((s) => {
          const idx = s.letters.length - 1 - k;
          return idx >= 0 ? s.letters[idx].h : 0;
        }),
        backgroundColor: 'rgba(0,0,0,0)',
        borderWidth: 0,
        barPercentage: 1,
        categoryPercentage: 1,
        stack: 'logo',
      });
    }
    const chart = new Chart(ref.current, {
      type: 'bar',
      data: { labels, datasets },
      options: {
        responsive: false,
        animation: false,
        devicePixelRatio: 1,
        layout: { padding: { top: PLOT_TOP, right: padRight, left: 0, bottom: 0 } },
        plugins: { legend: { display: false }, tooltip: { enabled: false } },
        scales: {
          x: {
            type: 'category',
            stacked: true,
            offset: true,
            grid: {
              display: true,
              drawOnChartArea: false,
              drawTicks: true,
              tickLength: 7,
              tickWidth: 2,
              tickColor: '#000',
              offset: false,
            },
            border: { display: true, color: '#000', width: 4 },
            ticks: {
              autoSkip: false,
              maxRotation: 0,
              minRotation: 0,
              padding: 9,
              color: '#000',
              font: { size: 32, family: FONT },
              callback: (_v: any, i: number) => ((start + i) % 5 === 0 ? String(start + i) : ''),
            },
            afterFit: (s: any) => {
              s.height = X_AXIS_H;
            },
          },
          y: {
            stacked: true,
            min: 0,
            max: Y_MAX,
            afterBuildTicks: (s: any) => {
              s.ticks = yTickValues.map((v) => ({ value: v }));
            },
            grid: {
              drawOnChartArea: false,
              drawTicks: true,
              tickLength: 10,
              tickWidth: 3,
              tickColor: '#000',
            },
            border: { display: true, color: '#000', width: 3 },
            ticks: {
              autoSkip: false,
              padding: 12,
              color: '#000',
              font: { size: 32, family: FONT },
              callback: (v: any) => {
                const num = Number(v);
                return Math.abs(num - Math.round(num)) < 1e-6 ? num.toFixed(1) : '';
              },
            },
            title: {
              display: true,
              text: 'bits',
              color: '#000',
              font: { size: 38, family: FONT },
              padding: { top: 12, bottom: 0 },
            },
            afterFit: (s: any) => {
              s.width = Y_AXIS_W;
            },
          },
        },
      },
      plugins: [makeLogoPlugin(stacks)],
    } as any);
    return () => chart.destroy();
  }, [index, padRight]);

  return (
    <canvas
      ref={ref}
      width={canvasW}
      height={CANVAS_H}
      style={{
        position: 'absolute',
        left: 0,
        top: Math.round(10 + index * ROW_PITCH),
        width: canvasW,
        height: CANVAS_H,
      }}
    />
  );
}

export default function App() {
  return (
    <div
      style={{
        position: 'absolute',
        left: 0,
        top: 0,
        width: PAGE_W,
        height: PAGE_H,
        background: '#ffffff',
        overflow: 'hidden',
      }}
    >
      {rowStacks.map((_r, i) => (
        <LogoRow key={i} index={i} />
      ))}
      <div
        style={{
          position: 'absolute',
          right: 26,
          top: 2638,
          fontFamily: FONT,
          fontSize: 24.5,
          lineHeight: '24.5px',
          color: '#000',
          whiteSpace: 'nowrap',
        }}
      >
        WebLogo 3.7.12
      </div>
    </div>
  );
}
